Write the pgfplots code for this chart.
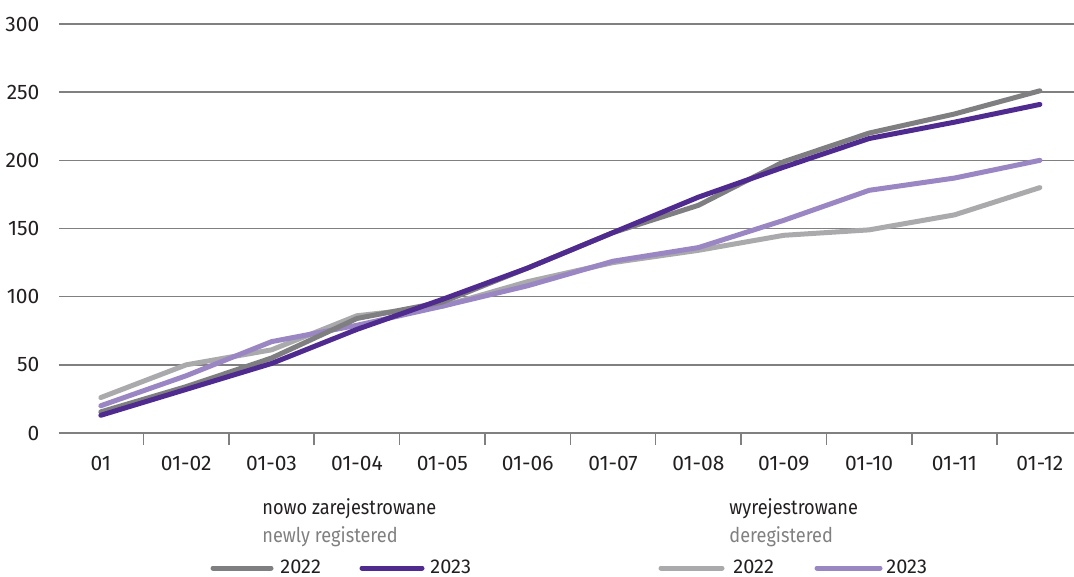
\documentclass[border=0pt]{standalone}
\usepackage{fontspec}
\setmainfont{Fira Sans}
\newfontfamily\condfont{Fira Sans}[FakeStretch=0.89]
\usepackage{pgfplots}
\pgfplotsset{compat=1.18}
\definecolor{cNew22}{HTML}{7F7F81}
\definecolor{cNew23}{HTML}{4F2A8F}
\definecolor{cDer22}{HTML}{AAAAAD}
\definecolor{cDer23}{HTML}{9A86C3}
\definecolor{cGrid}{HTML}{808080}
\definecolor{cTxt}{HTML}{231F20}
\begin{document}
\begin{tikzpicture}
\useasboundingbox (-29.5pt,-72pt) rectangle (507.5pt,216.5pt);
\begin{axis}[
  at={(0pt,0pt)}, anchor=south west, scale only axis,
  width=507.5pt, height=204.5pt,
  xmin=-0.49, xmax=11.4, ymin=0, ymax=300,
  axis x line*=bottom, axis y line*=left,
  y axis line style={draw=none},
  x axis line style={cGrid, line width=0.75pt},
  ytick={0,50,...,300},
  ymajorgrids, grid style={cGrid, line width=0.75pt},
  ytick style={draw=none},
  xtick={0,...,11},
  xticklabels={01,01-02,01-03,01-04,01-05,01-06,01-07,01-08,01-09,01-10,01-11,01-12},
  major x tick style={draw=none},
  minor xtick={-0.5,0.5,...,10.5},
  minor tick length=6pt, tick align=outside,
  minor x tick style={cGrid, line width=0.75pt},
  /pgf/number format/assume math mode=true,
  ticklabel style={font=\fontsize{10.5}{12}\selectfont, text=cTxt},
  xticklabel style={yshift=-4pt},
  yticklabel style={xshift=-2pt},
  every axis plot/.append style={line width=2.5pt, line cap=round, line join=round},
  clip=false,
]
% deregistered 2022
\addplot[cDer22] coordinates {(0,26)(1,50)(2,61)(3,86)(4,93)(5,111)(6,125)(7,134)(8,145)(9,149)(10,160)(11,180)};
% deregistered 2023
\addplot[cDer23] coordinates {(0,20)(1,42)(2,67)(3,79)(4,93)(5,108)(6,126)(7,136)(8,156)(9,178)(10,187)(11,200)};
% newly 2022
\addplot[cNew22] coordinates {(0,15.5)(1,34)(2,55)(3,84)(4,96)(5,121)(6,147)(7,167)(8,199)(9,220)(10,234)(11,251)};
% newly 2023
\addplot[cNew23] coordinates {(0,13)(1,32)(2,51)(3,76)(4,98)(5,121)(6,147)(7,173)(8,195)(9,216)(10,228)(11,241)};
\end{axis}
% legend
\begin{scope}[font=\fontsize{10}{12}\selectfont]
\node[anchor=base west, inner sep=0pt, text=cTxt, font=\condfont\fontsize{10.2}{12}\selectfont] at (101.5pt,-41pt) {nowo zarejestrowane};
\node[anchor=base west, inner sep=0pt, text=cGrid, font=\condfont\fontsize{10.2}{12}\selectfont] at (101.5pt,-54.5pt) {newly registered};
\draw[cNew22, line width=2.5pt, line cap=round] (77pt,-67.5pt) -- (106pt,-67.5pt);
\node[anchor=base west, inner sep=0pt, text=cTxt] at (110.5pt,-70pt) {2022};
\draw[cNew23, line width=2.5pt, line cap=round] (151.5pt,-67.5pt) -- (181.5pt,-67.5pt);
\node[anchor=base west, inner sep=0pt, text=cTxt] at (185.5pt,-70pt) {2023};
\node[anchor=base west, inner sep=0pt, text=cTxt, font=\condfont\fontsize{10.2}{12}\selectfont] at (335pt,-41pt) {wyrejestrowane};
\node[anchor=base west, inner sep=0pt, text=cGrid, font=\condfont\fontsize{10.2}{12}\selectfont] at (335pt,-54.5pt) {deregistered};
\draw[cDer22, line width=2.5pt, line cap=round] (301pt,-67.5pt) -- (331.5pt,-67.5pt);
\node[anchor=base west, inner sep=0pt, text=cTxt] at (337pt,-70pt) {2022};
\draw[cDer23, line width=2.5pt, line cap=round] (379pt,-67.5pt) -- (410.5pt,-67.5pt);
\node[anchor=base west, inner sep=0pt, text=cTxt] at (413.5pt,-70pt) {2023};
\end{scope}
\end{tikzpicture}
\end{document}
